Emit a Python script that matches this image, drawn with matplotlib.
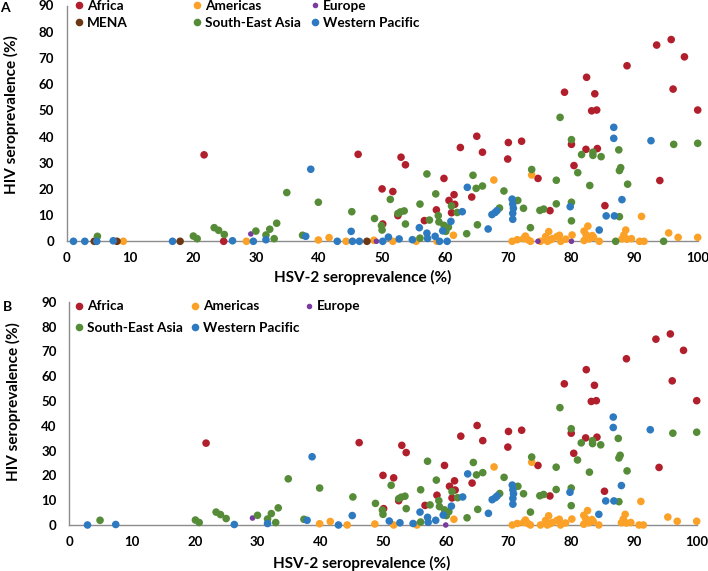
import numpy as np
import matplotlib.pyplot as plt
from matplotlib.lines import Line2D

plt.rcParams['font.family'] = ['Lato', 'DejaVu Sans']
plt.rcParams['font.weight'] = 'bold'

# ---- data (HSV-2 %, HIV %) ----
x_ticks = list(range(0, 101, 10))
y_ticks = list(range(0, 91, 10))

regions = ['Africa', 'Americas', 'Europe', 'MENA', 'South-East Asia', 'Western Pacific']
colors = ['#B01F2B', '#FBA127', '#7B3A9E', '#6B3714', '#568C37', '#2E7AC0']

# points shown in both panels
africa_x = [21.8, 46.2, 93.5, 95.8, 97.9, 88.8, 82.4, 78.9, 83.7, 83.2, 84.0, 96.1, 100.0,
            65.0, 70.0, 72.1, 62.4, 65.9, 53.0, 53.7, 69.9, 80.0, 82.3, 84.1, 80.4, 59.8,
            74.7, 94.0, 50.0, 51.7, 61.4, 64.2, 60.6, 61.5, 58.6, 61.0, 52.5, 76.6, 85.3,
            56.7, 50.1]
africa_y = [33.0, 33.2, 74.9, 77.0, 70.4, 67.0, 62.6, 56.9, 56.3, 49.8, 50.1, 58.1, 50.1,
            40.1, 37.7, 38.2, 35.8, 34.0, 32.1, 29.2, 31.4, 37.0, 35.1, 35.4, 28.9, 24.0,
            24.0, 23.2, 20.0, 19.0, 17.8, 16.9, 15.6, 14.1, 12.0, 10.9, 9.8, 11.7, 13.6,
            7.9, 6.6]

americas_x = [39.9, 41.6, 44.3, 48.7, 51.7, 55.4, 61.3, 67.7, 73.7, 91.1, 95.4, 96.9, 100.0,
              70.6, 71.4, 72.7, 73.1, 73.5, 72.4, 75.1, 75.9, 76.4, 76.7, 76.2, 77.7, 78.3,
              79.1, 80.1, 82.0, 82.6, 82.0, 82.3, 83.3, 82.8, 83.5, 84.4, 88.6, 88.3, 88.0,
              88.8, 89.5, 90.8, 91.5, 77.0, 78.1]
americas_y = [0.5, 1.4, 0.0, 0.4, 0.0, 0.0, 2.3, 23.4, 25.3, 9.5, 3.2, 1.5, 1.5,
              0.0, 0.6, 2.0, 0.6, 0.0, 1.0, 0.0, 1.8, 3.7, 0.6, 0.0, 1.8, 0.0,
              0.8, 2.4, 0.3, 5.8, 3.9, 2.6, 2.2, 0.9, 1.5, 0.0, 4.3, 2.4, 0.9,
              0.8, 1.0, 0.0, 0.0, 1.0, 2.3]

europe_x = [29.2]
europe_y = [2.8]

mena_x = []
mena_y = []

sea_x = [4.9, 20.1, 20.7, 23.4, 24.1, 25.0, 30.0, 31.6, 32.2, 32.9, 33.3, 34.9, 37.4, 39.9,
         45.2, 48.8, 49.9, 50.0, 51.3, 52.5, 52.9, 53.5, 53.7, 56.0, 56.0, 57.1, 57.5, 58.5,
         58.9, 59.0, 59.8, 60.5, 60.1, 61.0, 61.9, 63.4, 64.4, 64.9, 65.9, 65.1, 68.6, 69.3,
         71.5, 72.4, 73.5, 73.7, 75.0, 75.6, 77.6, 77.6, 78.2, 80.0, 80.0, 80.0, 81.0, 81.6,
         82.9, 83.4, 83.4, 84.7, 87.5, 87.8, 87.6, 87.6, 88.9, 96.2, 100.0]
sea_y = [1.9, 2.0, 1.0, 5.2, 4.2, 2.6, 3.9, 2.4, 4.6, 1.0, 6.9, 18.6, 2.3, 14.9,
         11.3, 8.7, 6.0, 4.3, 16.0, 10.6, 11.2, 11.6, 6.6, 14.2, 1.2, 25.7, 8.1, 18.1,
         9.8, 7.4, 6.1, 5.4, 3.8, 13.5, 11.0, 2.9, 25.2, 20.2, 21.1, 6.3, 12.7, 19.2,
         15.6, 12.6, 5.2, 27.4, 11.8, 12.3, 14.3, 23.3, 47.3, 38.8, 14.9, 7.8, 26.2, 33.1,
         21.3, 34.0, 32.8, 32.3, 34.9, 28.1, 27.0, 9.4, 21.8, 37.0, 37.4]

wpac_x = [2.9, 7.4, 26.3, 31.6, 37.9, 38.7, 42.9, 45.1, 51.0, 52.7, 54.8, 57.2, 57.1, 55.9,
          58.4, 59.6, 60.9, 62.7, 63.5, 66.8, 67.4, 67.9, 68.2, 70.6, 70.7, 70.8, 70.7, 70.7,
          79.8, 84.4, 85.5, 86.8, 86.7, 86.7, 88.0, 92.6]
wpac_y = [0.0, 0.2, 0.2, 0.6, 1.9, 27.5, 0.0, 3.8, 1.6, 0.9, 0.6, 1.1, 3.1, 5.2,
          1.9, 4.0, 7.6, 11.3, 20.6, 4.7, 10.2, 11.0, 11.7, 16.1, 14.2, 12.6, 10.7, 8.4,
          13.2, 4.3, 9.7, 9.7, 43.5, 39.3, 15.9, 38.4]

# HSV-2 values of HIV = 0 points seen only in panel A
africa_zero_a = [24.9]
americas_zero_a = [9.0, 28.5, 58.7]
europe_zero_a = [49.1, 74.7, 80.0]
mena_zero_a = [4.4, 8.0, 18.0, 47.6]
sea_zero_a = [87.0, 94.6]
wpac_zero_a = [1.1, 4.8, 16.8, 29.6, 45.3, 46.4, 50.1, 59.1, 60.3]
# ... and only in panel B
europe_zero_b = [60.0]

series_x = [africa_x, americas_x, europe_x, mena_x, sea_x, wpac_x]
series_y = [africa_y, americas_y, europe_y, mena_y, sea_y, wpac_y]
zeros_a = [africa_zero_a, americas_zero_a, europe_zero_a, mena_zero_a, sea_zero_a, wpac_zero_a]
zeros_b = [[], [], europe_zero_b, [], [], []]

W, H = 708, 571
fig = plt.figure(figsize=(W / 100, H / 100), dpi=100)


def px_axes(left, right, y0, y90):
    # axes box given in picture pixels
    return fig.add_axes([left / W, 1 - y0 / H, (right - left) / W, (y0 - y90) / H])


def marker_size(name):
    return 16 if name == 'Europe' else 30


def draw_panel(ax, zeros, shown):
    for name, col, xs, ys, zx in zip(regions, colors, series_x, series_y, zeros):
        if name not in shown:
            continue
        x = list(xs) + list(zx)
        y = list(ys) + [0.0] * len(zx)
        ax.scatter(x, y, s=marker_size(name), color=col, edgecolors='none',
                   clip_on=False, zorder=3)
    ax.set_xlim(0, 100)
    ax.set_ylim(0, 90)
    ax.set_xticks(x_ticks)
    ax.set_yticks(y_ticks)
    ax.tick_params(length=0, labelsize=9.5)
    ax.tick_params(axis='y', pad=9)
    ax.tick_params(axis='x', pad=8)
    for s in ['top', 'right']:
        ax.spines[s].set_visible(False)
    for s in ['left', 'bottom']:
        ax.spines[s].set_color('#8C8C8C')
        ax.spines[s].set_linewidth(1.0)
    ax.set_xlabel('HSV-2 seroprevalence (%)', fontsize=11, fontweight='bold')
    ax.set_ylabel('HIV seroprevalence (%)', fontsize=11, fontweight='bold')


def add_legend(columns, col_px, top_px, spacing):
    for names, xp in zip(columns, col_px):
        handles = [Line2D([], [], linestyle='none', marker='o',
                          markersize=(marker_size(n) ** 0.5),
                          markerfacecolor=colors[regions.index(n)],
                          markeredgecolor='none') for n in names]
        fig.legend(handles, names, loc='upper left',
                   bbox_to_anchor=((xp - 5) / W, 1 - top_px / H),
                   bbox_transform=fig.transFigure, frameon=False,
                   borderpad=0, borderaxespad=0, handlelength=0.75,
                   handletextpad=0.2, labelspacing=spacing,
                   prop={'size': 9.8, 'weight': 'bold'})


# panel A
axA = px_axes(66.5, 697.7, 241.3, 5.5)
draw_panel(axA, zeros_a, regions)
axA.xaxis.set_label_coords(0.469, -0.122)
axA.yaxis.set_label_coords(-0.075, 0.536)
add_legend([['Africa', 'MENA'], ['Americas', 'South-East Asia'],
            ['Europe', 'Western Pacific']], [79, 197, 315], -0.5, 0.42)
fig.text(5 / W, 1 - 8 / H, 'A', fontsize=10, fontweight='bold', ha='center', va='center')

# panel B (no MENA)
axB = px_axes(69.3, 696.7, 525, 301.7)
draw_panel(axB, zeros_b, [r for r in regions if r != 'MENA'])
axB.xaxis.set_label_coords(0.4665, -0.139)
axB.yaxis.set_label_coords(-0.077, 0.551)
add_legend([['Africa', 'South-East Asia'], ['Americas', 'Western Pacific'],
            ['Europe']], [79, 195, 309], 300.5, 0.68)
fig.text(7.5 / W, 1 - 307 / H, 'B', fontsize=10, fontweight='bold', ha='center', va='center')

fig.savefig('out.png', dpi=100)
